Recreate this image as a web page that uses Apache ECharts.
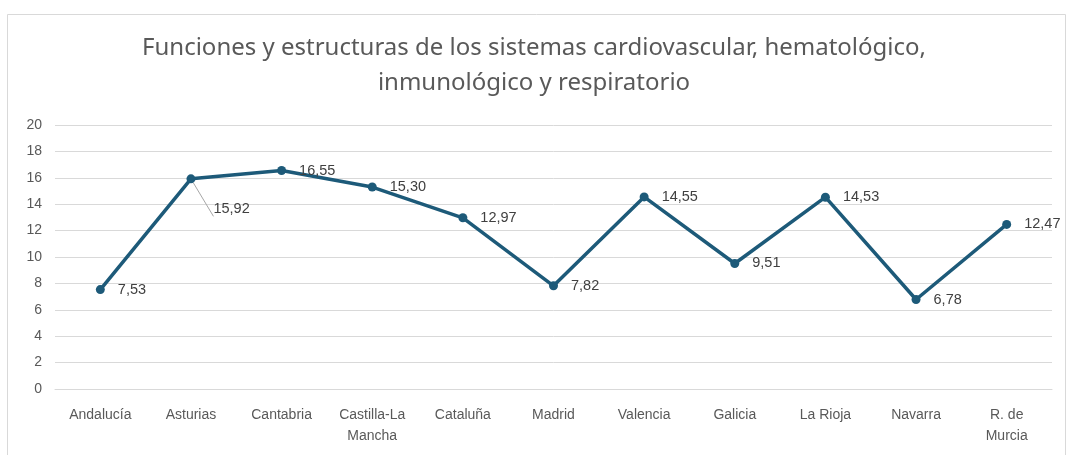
<!DOCTYPE html>
<html>
<head>
<meta charset="utf-8">
<script src="https://cdn.jsdelivr.net/npm/echarts@6/dist/echarts.min.js"></script>
<style>
  html, body { margin: 0; padding: 0; background: #fff; }
  #chart { width: 1068px; height: 455px; }
</style>
</head>
<body>
<div id="chart"></div>
<script>
const categories = ['Andalucía', 'Asturias', 'Cantabria', 'Castilla-La\nMancha', 'Cataluña', 'Madrid', 'Valencia', 'Galicia', 'La Rioja', 'Navarra', 'R. de\nMurcia']
const values = [7.53, 15.92, 16.55, 15.30, 12.97, 7.82, 14.55, 9.51, 14.53, 6.78, 12.47]
const yTicks = { min: 0, max: 20, interval: 2 }

const chart = echarts.init(document.getElementById('chart'))
const seriesData = values.map((v, i) => {
  if (i === 1) {
    // Asturias label sits below-right with a leader line
    return {
      value: v,
      label: { offset: [5, 30] },
      labelLine: { show: true, lineStyle: { color: '#a6a6a6', width: 1 } }
    }
  }
  return v
})

const option = {
  backgroundColor: '#fff',
  animation: false,
  title: {
    text: 'Funciones y estructuras de los sistemas cardiovascular, hematológico,\ninmunológico y respiratorio',
    left: 'center',
    top: 26,
    textStyle: {
      fontFamily: 'Noto Sans',
      fontSize: 24,
      fontWeight: 'normal',
      color: '#595959',
      lineHeight: 35
    }
  },
  grid: { left: 55, right: 16, top: 125, bottom: 66 },
  xAxis: {
    type: 'category',
    data: categories,
    axisLine: { lineStyle: { color: '#d9d9d9' } },
    axisTick: { show: false },
    axisLabel: {
      interval: 0,
      margin: 16,
      color: '#595959',
      fontFamily: 'Liberation Sans',
      fontSize: 14,
      lineHeight: 21
    }
  },
  yAxis: {
    type: 'value',
    min: yTicks.min,
    max: yTicks.max,
    interval: yTicks.interval,
    axisLine: { show: false },
    axisTick: { show: false },
    splitLine: { lineStyle: { color: '#d9d9d9' } },
    axisLabel: {
      margin: 13,
      color: '#595959',
      fontFamily: 'Liberation Sans',
      fontSize: 14
    }
  },
  series: [
    {
      type: 'line',
      data: seriesData,
      symbol: 'circle',
      symbolSize: 9,
      lineStyle: { color: '#1d5a79', width: 3.5 },
      itemStyle: { color: '#1d5a79' },
      label: {
        show: true,
        position: 'right',
        distance: 13,
        color: '#404040',
        fontFamily: 'Liberation Sans',
        fontSize: 14.5,
        formatter: (p) => p.value.toFixed(2).replace('.', ',')
      }
    }
  ],
  graphic: [
    {
      type: 'rect',
      shape: { x: 7.5, y: 14.5, width: 1058, height: 450 },
      style: { fill: 'none', stroke: '#d9d9d9', lineWidth: 1 },
      silent: true
    }
  ]
}
chart.setOption(option)
</script>
</body>
</html>
